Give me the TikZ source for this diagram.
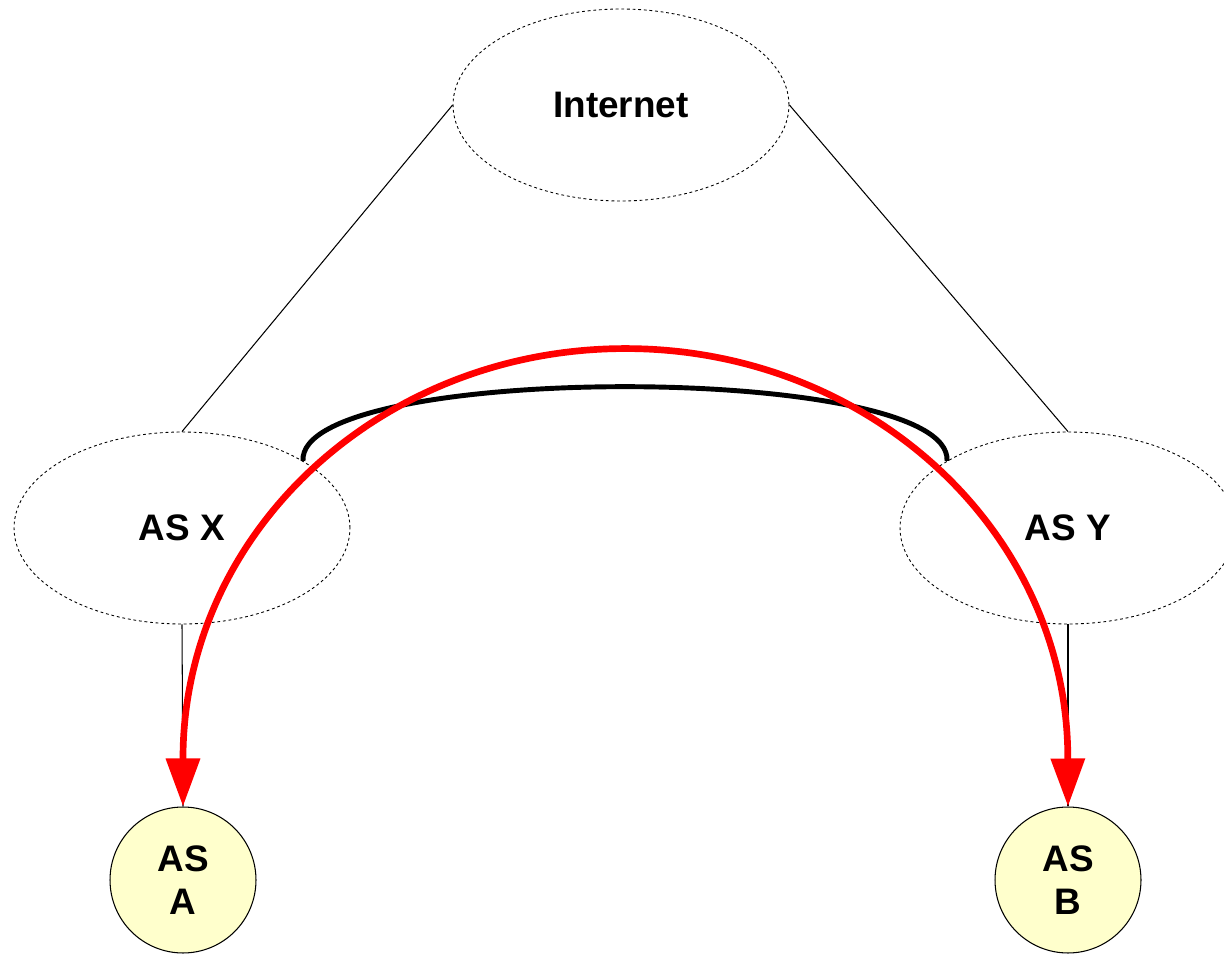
\documentclass[tikz,border=0pt]{standalone}
\usepackage{fontspec}
\setmainfont{Liberation Sans}
\usepackage{tikz}
\usetikzlibrary{shapes.geometric,arrows.meta}
\definecolor{asfill}{RGB}{255,255,204}
\tikzset{x=0.02cm, y=0.02cm,
  cloud/.style={ellipse, draw, dash pattern=on 1.6pt off 1.6pt, line width=0.5pt,
    minimum width=6.72cm, minimum height=3.84cm, inner sep=0pt,
    font=\fontsize{21}{24.4}\selectfont\bfseries},
  stub/.style={circle, draw, fill=asfill, line width=0.6pt, minimum size=2.92cm,
    inner sep=0pt, align=center, font=\fontsize{21}{24.4}\selectfont\bfseries},
  link/.style={line width=0.6pt},
  peer/.style={line width=2.8pt},
  route/.style={red, line width=3.8pt, {Triangle[length=0.96cm, width=0.66cm]}-{Triangle[length=0.96cm, width=0.66cm]}}}

\begin{document}
\begin{tikzpicture}
  \useasboundingbox (0,0) rectangle (1224,954);

  \node (Inet) [cloud] at (621,849) {Internet};
  \node (ASX) [cloud] at (182,426) {AS X};
  \node (ASY) [cloud] at (1068,426) {AS Y};
  \node (ASA) [stub] at (183,74) {AS\\A};
  \node (ASB) [stub] at (1068,74) {AS\\B};

  \draw [link] (Inet.west) -- (ASX.north);
  \draw [link] (Inet.east) -- (ASY.north);
  \draw [link] (ASX.south) -- (ASA.north);
  \draw [link] (ASY.south) -- (ASB.north);

  % peering link between X and Y
  \draw [peer] (ASX.29) .. controls +(-6,99) and +(6,99) .. (ASY.151);

  % path from A to B
  \draw [route] (ASA.north) -- ++(0,48)
    arc[start angle=180, end angle=0, x radius=8.85cm, y radius=8.2cm] -- (ASB.north);
\end{tikzpicture}
\end{document}
